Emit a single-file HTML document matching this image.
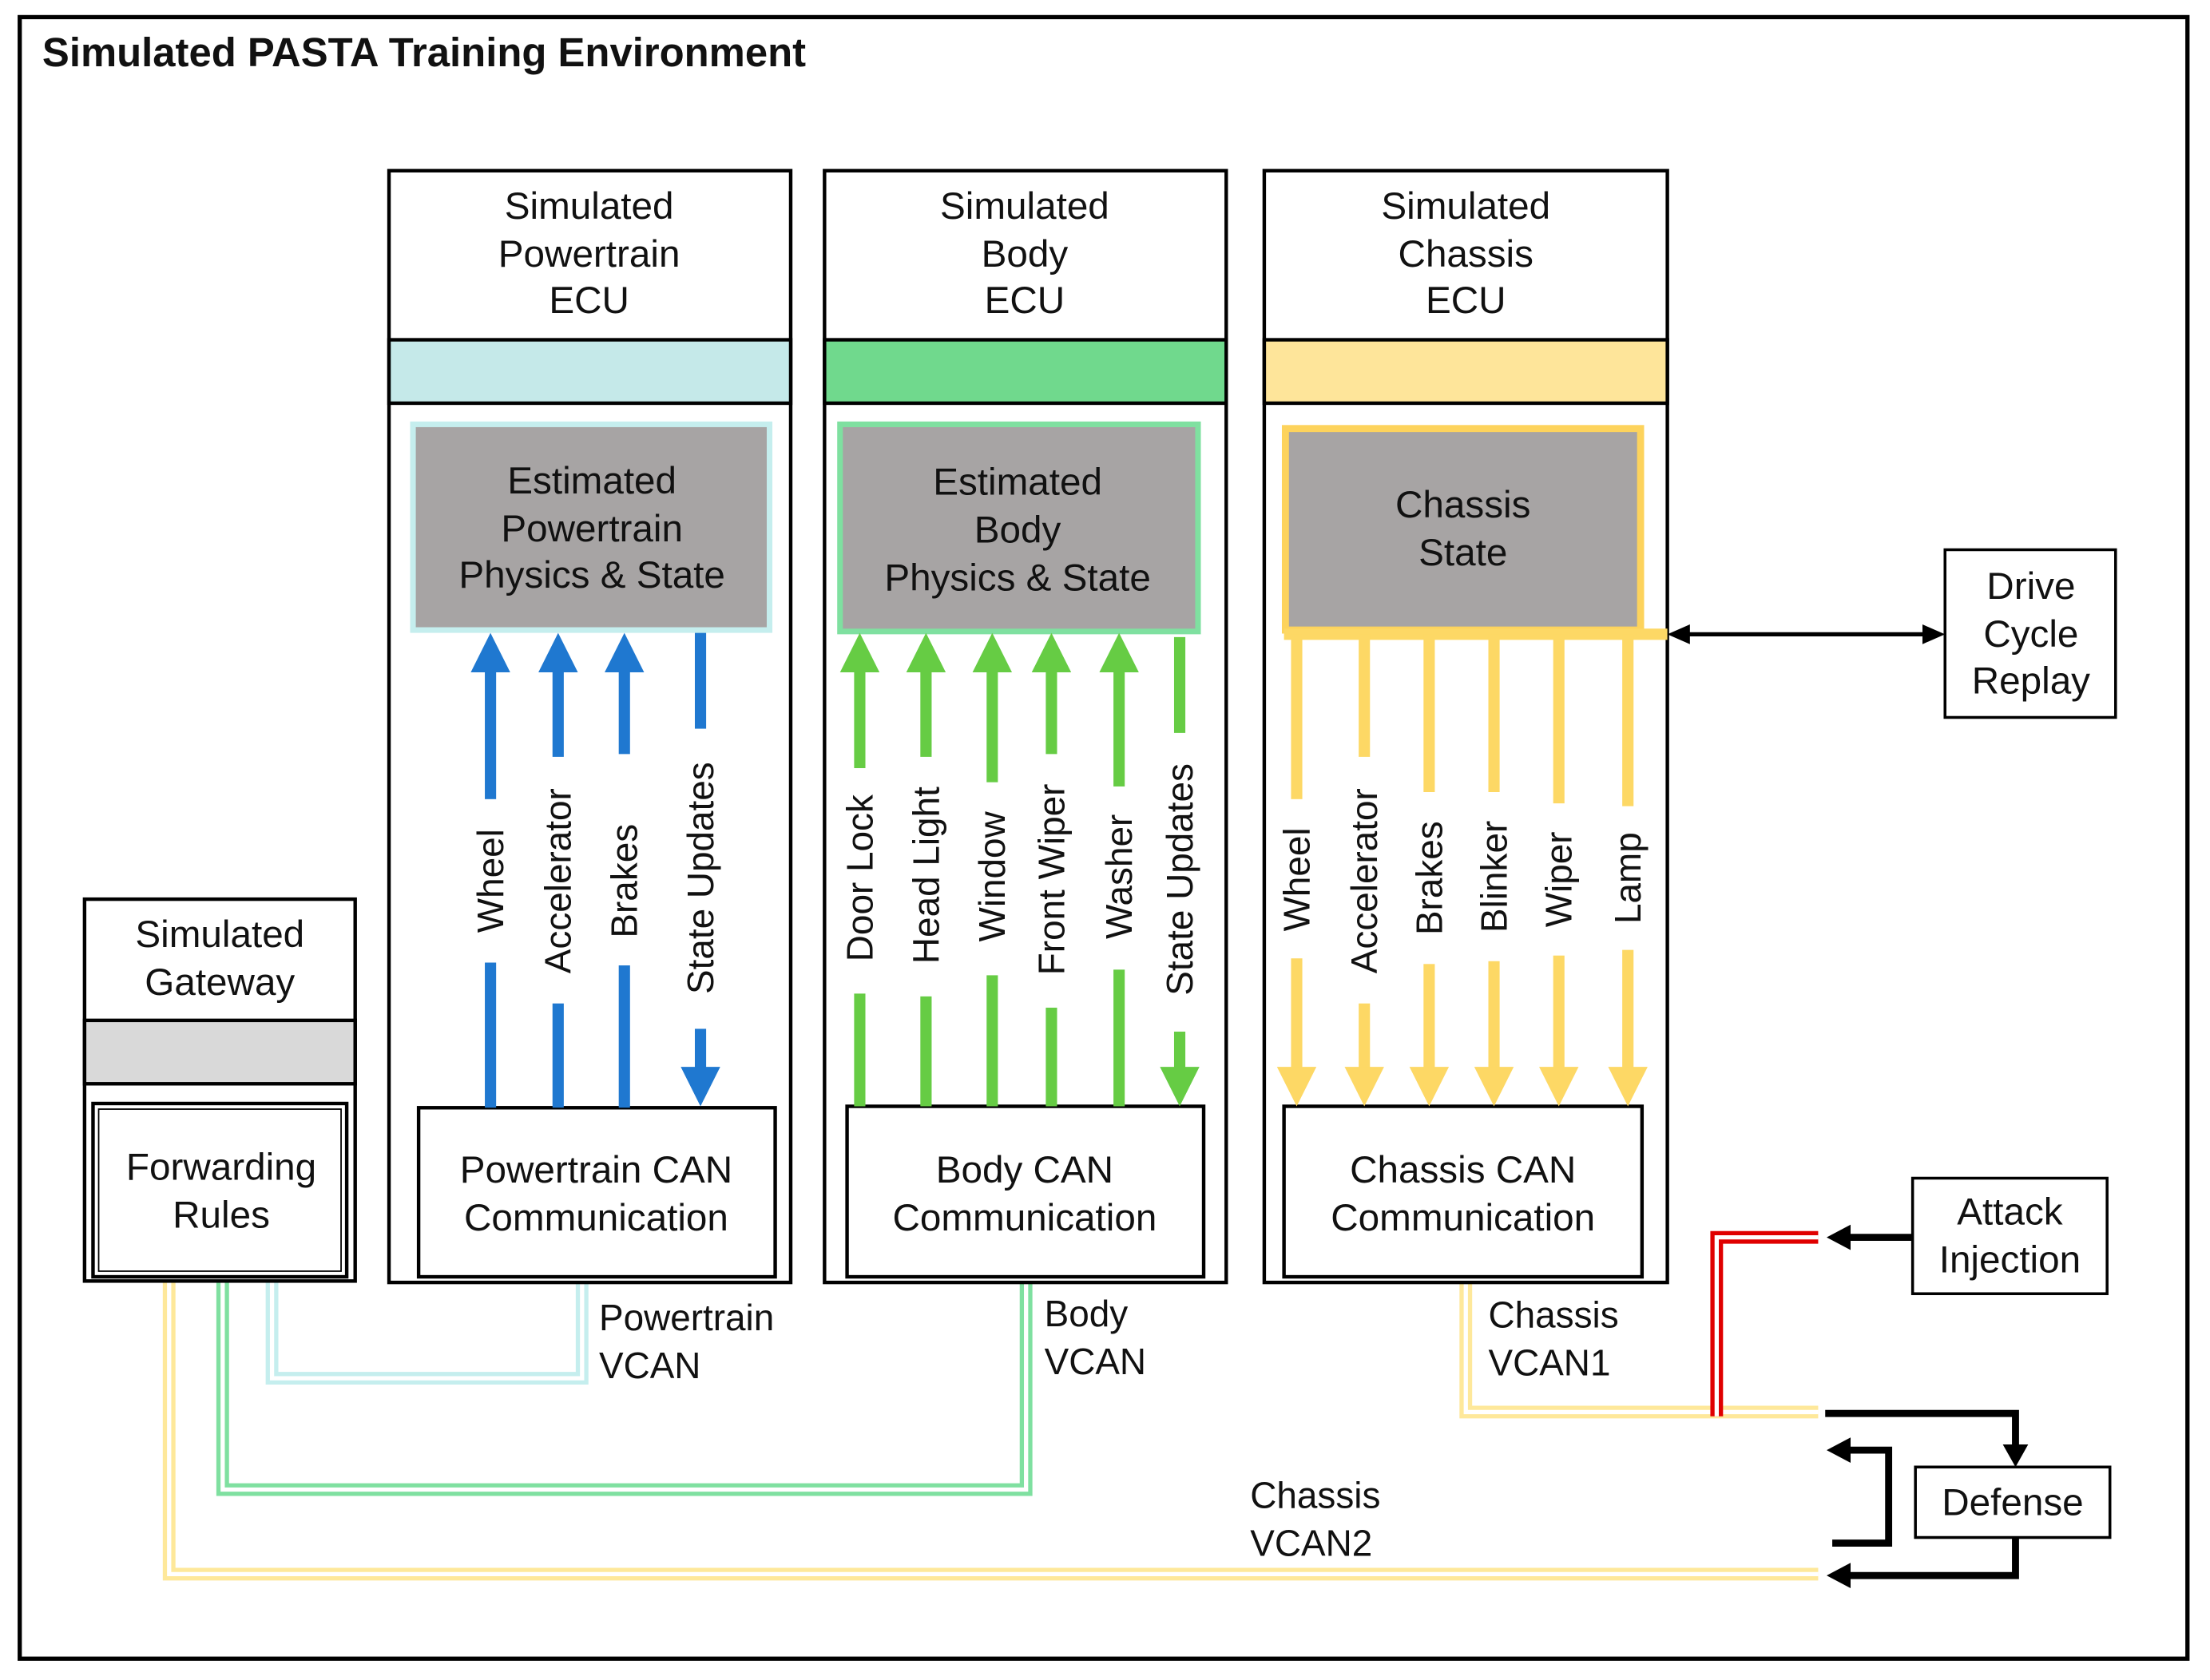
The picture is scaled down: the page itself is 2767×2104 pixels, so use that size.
<!DOCTYPE html>
<html><head><meta charset="utf-8"><style>
html,body{margin:0;padding:0;background:#fff}
svg{display:block}
text{font-family:"Liberation Sans",Arial,sans-serif;fill:#111}
</style></head><body>
<svg width="2767" height="2104" viewBox="0 0 1568 1192" xmlns="http://www.w3.org/2000/svg">
<rect x="0" y="0" width="1568" height="1192" fill="#fff"/>
<rect x="14" y="12" width="1538" height="1165" fill="none" stroke="#000" stroke-width="3"/>
<text x="30" y="47" font-size="28.8" font-weight="bold">Simulated PASTA Training Environment</text>

<!-- buses -->
<g fill="none" stroke-linejoin="miter">
<path d="M413,906 V978 H193 V909" stroke="#c5eeee" stroke-width="9"/>
<path d="M413,906 V978 H193 V909" stroke="#fff" stroke-width="3"/>
<path d="M728,906 V1057 H158 V909" stroke="#7fe0a0" stroke-width="9"/>
<path d="M728,906 V1057 H158 V909" stroke="#fff" stroke-width="3"/>
<path d="M120,909 V1117 H1290" stroke="#fee89a" stroke-width="9"/>
<path d="M120,909 V1117 H1290" stroke="#fff" stroke-width="3"/>
<path d="M1040,906 V1002 H1290" stroke="#fee89a" stroke-width="9"/>
<path d="M1040,906 V1002 H1290" stroke="#fff" stroke-width="3"/>
<path d="M1290,878 H1218 V1005" stroke="#e00000" stroke-width="9"/>
<path d="M1290,878 H1218 V1005" stroke="#fff" stroke-width="3"/>
</g>

<!-- Gateway -->
<rect x="60" y="638" width="192" height="271" fill="#fff" stroke="#000" stroke-width="2.5"/>
<rect x="60" y="724" width="192" height="45" fill="#d9d9d9" stroke="#000" stroke-width="2.5"/>
<rect x="66" y="783" width="180" height="123" fill="#fff" stroke="#000" stroke-width="2.5"/>
<rect x="70" y="787" width="172" height="115" fill="none" stroke="#000" stroke-width="1"/>
<text font-size="27" text-anchor="middle"><tspan x="156" y="672">Simulated</tspan><tspan x="156" y="706">Gateway</tspan></text>
<text font-size="27" text-anchor="middle"><tspan x="157" y="837">Forwarding</tspan><tspan x="157" y="871">Rules</tspan></text>

<!-- ECU boxes -->
<g stroke="#000" stroke-width="2.5">
<rect x="276" y="121" width="285" height="789" fill="#fff"/>
<rect x="276" y="241" width="285" height="45" fill="#c5e9e9"/>
<rect x="585" y="121" width="285" height="789" fill="#fff"/>
<rect x="585" y="241" width="285" height="45" fill="#70d98d"/>
<rect x="897" y="121" width="286" height="789" fill="#fff"/>
<rect x="897" y="241" width="286" height="45" fill="#fee59a"/>
</g>
<rect x="293" y="301" width="253" height="146" fill="#a7a4a4" stroke="#c5eeee" stroke-width="4"/>
<rect x="596" y="301" width="254" height="147" fill="#a7a4a4" stroke="#7fe0a0" stroke-width="4"/>
<rect x="912" y="304" width="252" height="143" fill="#a7a4a4" stroke="#fdd35c" stroke-width="5"/>
<g stroke="#000" stroke-width="2.5" fill="#fff">
<rect x="297" y="786" width="253" height="120"/>
<rect x="601" y="785" width="253" height="121"/>
<rect x="911" y="785" width="254" height="121"/>
</g>
<g font-size="27" text-anchor="middle">
<text><tspan x="418" y="155">Simulated</tspan><tspan x="418" y="189">Powertrain</tspan><tspan x="418" y="222">ECU</tspan></text>
<text><tspan x="727" y="155">Simulated</tspan><tspan x="727" y="189">Body</tspan><tspan x="727" y="222">ECU</tspan></text>
<text><tspan x="1040" y="155">Simulated</tspan><tspan x="1040" y="189">Chassis</tspan><tspan x="1040" y="222">ECU</tspan></text>
<text><tspan x="420" y="350">Estimated</tspan><tspan x="420" y="384">Powertrain</tspan><tspan x="420" y="417">Physics &amp; State</tspan></text>
<text><tspan x="722" y="351">Estimated</tspan><tspan x="722" y="385">Body</tspan><tspan x="722" y="419">Physics &amp; State</tspan></text>
<text><tspan x="1038" y="367">Chassis</tspan><tspan x="1038" y="401">State</tspan></text>
<text><tspan x="423" y="839">Powertrain CAN</tspan><tspan x="423" y="873">Communication</tspan></text>
<text><tspan x="727" y="839">Body CAN</tspan><tspan x="727" y="873">Communication</tspan></text>
<text><tspan x="1038" y="839">Chassis CAN</tspan><tspan x="1038" y="873">Communication</tspan></text>
</g>

<!-- Powertrain arrows -->
<g stroke="#1f78d0" stroke-width="8" fill="#1f78d0">
<path d="M348,786V470"/><path d="M396,786V470"/><path d="M443,786V470"/><path d="M497,449V765"/>
</g>
<g fill="#1f78d0">
<path d="M334,477L348,449L362,477z"/><path d="M382,477L396,449L410,477z"/><path d="M429,477L443,449L457,477z"/><path d="M483,757L497,785L511,757z"/>
</g>
<!-- Body arrows -->
<g stroke="#66cc44" stroke-width="8">
<path d="M610,785V470"/><path d="M657,785V470"/><path d="M704,785V470"/><path d="M746,785V470"/><path d="M794,785V470"/><path d="M837,452V765"/>
</g>
<g fill="#66cc44">
<path d="M596,477L610,449L624,477z"/><path d="M643,477L657,449L671,477z"/><path d="M690,477L704,449L718,477z"/><path d="M732,477L746,449L760,477z"/><path d="M780,477L794,449L808,477z"/><path d="M823,757L837,785L851,757z"/>
</g>
<!-- Chassis arrows -->
<g stroke="#fdd865" stroke-width="8">
<path d="M911,450H1183"/>
<path d="M920,450V765"/><path d="M968,450V765"/><path d="M1014,450V765"/><path d="M1060,450V765"/><path d="M1106,450V765"/><path d="M1155,450V765"/>
</g>
<g fill="#fdd865">
<path d="M906,757L920,785L934,757z"/><path d="M954,757L968,785L982,757z"/><path d="M1000,757L1014,785L1028,757z"/><path d="M1046,757L1060,785L1074,757z"/><path d="M1092,757L1106,785L1120,757z"/><path d="M1141,757L1155,785L1169,757z"/>
</g>

<!-- label gaps -->
<g fill="#fff">
<rect x="335" y="567" width="26" height="116"/>
<rect x="383" y="537" width="26" height="175"/>
<rect x="430" y="535" width="26" height="150"/>
<rect x="484" y="517" width="26" height="213"/>
<rect x="597" y="545" width="26" height="160"/>
<rect x="644" y="537" width="26" height="170"/>
<rect x="691" y="555" width="26" height="137"/>
<rect x="733" y="535" width="26" height="180"/>
<rect x="781" y="558" width="26" height="130"/>
<rect x="824" y="520" width="26" height="212"/>
<rect x="907" y="567" width="26" height="113"/>
<rect x="955" y="537" width="26" height="175"/>
<rect x="1001" y="562" width="26" height="122"/>
<rect x="1047" y="562" width="26" height="120"/>
<rect x="1093" y="570" width="26" height="108"/>
<rect x="1142" y="572" width="26" height="102"/>
</g>
<g font-size="26" text-anchor="middle">
<text transform="translate(357,625) rotate(-90)">Wheel</text>
<text transform="translate(405,625) rotate(-90)">Accelerator</text>
<text transform="translate(452,625) rotate(-90)">Brakes</text>
<text transform="translate(506,623) rotate(-90)">State Updates</text>
<text transform="translate(619,623) rotate(-90)">Door Lock</text>
<text transform="translate(666,621) rotate(-90)">Head Light</text>
<text transform="translate(713,622) rotate(-90)">Window</text>
<text transform="translate(755,624) rotate(-90)">Front Wiper</text>
<text transform="translate(803,622) rotate(-90)">Washer</text>
<text transform="translate(846,624) rotate(-90)">State Updates</text>
<text transform="translate(929,624) rotate(-90)">Wheel</text>
<text transform="translate(977,625) rotate(-90)">Accelerator</text>
<text transform="translate(1023,623) rotate(-90)">Brakes</text>
<text transform="translate(1069,622) rotate(-90)">Blinker</text>
<text transform="translate(1115,624) rotate(-90)">Wiper</text>
<text transform="translate(1164,623) rotate(-90)">Lamp</text>
</g>

<!-- right boxes -->
<g stroke="#000" stroke-width="2" fill="#fff">
<rect x="1380" y="390" width="121" height="119"/>
<rect x="1357" y="836" width="138" height="82"/>
<rect x="1359" y="1041" width="138" height="50"/>
</g>
<g font-size="27" text-anchor="middle">
<text><tspan x="1441" y="425">Drive</tspan><tspan x="1441" y="459">Cycle</tspan><tspan x="1441" y="492">Replay</tspan></text>
<text><tspan x="1426" y="869">Attack</tspan><tspan x="1426" y="903">Injection</tspan></text>
<text x="1428" y="1075">Defense</text>
</g>

<!-- black connectors -->
<path d="M1196,450H1368" stroke="#000" stroke-width="3"/>
<path d="M1183,450L1199,443L1199,457z" fill="#000"/>
<path d="M1380,450L1364,443L1364,457z" fill="#000"/>
<path d="M1357,878H1310" stroke="#000" stroke-width="5"/>
<path d="M1296,878L1313,869L1313,887z" fill="#000"/>
<path d="M1295,1003H1430V1028" stroke="#000" stroke-width="5" fill="none"/>
<path d="M1421,1025L1430,1041L1439,1025z" fill="#000"/>
<path d="M1300,1095H1340V1029H1310" stroke="#000" stroke-width="5" fill="none"/>
<path d="M1296,1029L1313,1020L1313,1038z" fill="#000"/>
<path d="M1430,1091V1118H1310" stroke="#000" stroke-width="5" fill="none"/>
<path d="M1296,1118L1313,1109L1313,1127z" fill="#000"/>

<!-- bus labels -->
<g font-size="26">
<text><tspan x="425" y="944">Powertrain</tspan><tspan x="425" y="978">VCAN</tspan></text>
<text><tspan x="741" y="941">Body</tspan><tspan x="741" y="975">VCAN</tspan></text>
<text><tspan x="1056" y="942">Chassis</tspan><tspan x="1056" y="976">VCAN1</tspan></text>
<text><tspan x="887" y="1070">Chassis</tspan><tspan x="887" y="1104">VCAN2</tspan></text>
</g>
</svg>
</body></html>
